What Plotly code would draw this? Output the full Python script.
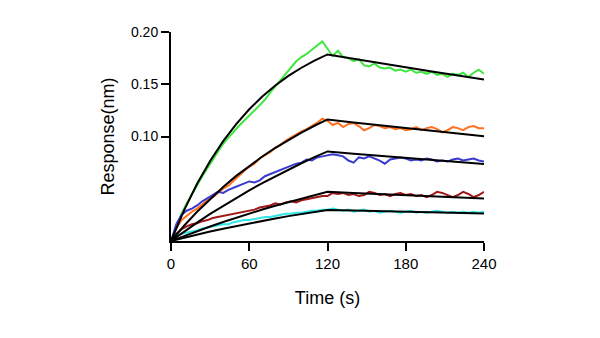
import plotly.graph_objects as go

# ---- data ----
t_data = list(range(0, 241, 4))

green = [0.0, 0.014, 0.026, 0.036, 0.045, 0.053, 0.062, 0.070, 0.078, 0.086,
         0.093, 0.099, 0.105, 0.110, 0.115, 0.120, 0.125, 0.130, 0.135, 0.142,
         0.148, 0.155, 0.161, 0.167, 0.172, 0.176, 0.179, 0.183, 0.187, 0.191,
         0.184, 0.177, 0.182, 0.176, 0.175, 0.172, 0.174, 0.168, 0.167, 0.170,
         0.166, 0.165, 0.166, 0.163, 0.164, 0.162, 0.164, 0.161, 0.162, 0.160,
         0.162, 0.159, 0.160, 0.157, 0.160, 0.159, 0.161, 0.157, 0.161, 0.164,
         0.160]

orange = [0.0, 0.012, 0.020, 0.024, 0.028, 0.031, 0.035, 0.039, 0.042, 0.046,
          0.050, 0.053, 0.058, 0.062, 0.067, 0.071, 0.074, 0.079, 0.082, 0.085,
          0.089, 0.092, 0.096, 0.099, 0.102, 0.105, 0.107, 0.110, 0.113, 0.117,
          0.115, 0.111, 0.113, 0.109, 0.112, 0.113, 0.110, 0.106, 0.108, 0.111,
          0.110, 0.108, 0.109, 0.107, 0.108, 0.106, 0.107, 0.109, 0.106, 0.108,
          0.109, 0.107, 0.104, 0.106, 0.109, 0.108, 0.106, 0.109, 0.110, 0.108,
          0.108]

blue = [0.0, 0.016, 0.025, 0.029, 0.031, 0.034, 0.038, 0.041, 0.044, 0.047,
        0.046, 0.049, 0.051, 0.053, 0.055, 0.057, 0.056, 0.058, 0.062, 0.064,
        0.066, 0.068, 0.070, 0.072, 0.074, 0.075, 0.078, 0.077, 0.080, 0.081,
        0.082, 0.083, 0.082, 0.081, 0.077, 0.075, 0.080, 0.079, 0.081, 0.079,
        0.077, 0.074, 0.078, 0.079, 0.080, 0.079, 0.077, 0.078, 0.077, 0.079,
        0.078, 0.076, 0.077, 0.076, 0.078, 0.079, 0.077, 0.078, 0.079, 0.077,
        0.076]

darkred = [0.0, 0.007, 0.011, 0.014, 0.016, 0.017, 0.019, 0.020, 0.022, 0.023,
           0.024, 0.025, 0.026, 0.027, 0.028, 0.029, 0.030, 0.032, 0.033, 0.034,
           0.036, 0.035, 0.037, 0.038, 0.037, 0.039, 0.040, 0.041, 0.042, 0.043,
           0.043, 0.046, 0.045, 0.046, 0.044, 0.045, 0.043, 0.044, 0.047, 0.046,
           0.044, 0.045, 0.043, 0.045, 0.046, 0.044, 0.045, 0.043, 0.044, 0.042,
           0.044, 0.047, 0.046, 0.044, 0.042, 0.044, 0.047, 0.045, 0.042, 0.044,
           0.047]

cyan = [0.0, 0.005, 0.007, 0.008, 0.009, 0.010, 0.012, 0.013, 0.014, 0.015,
        0.016, 0.016, 0.018, 0.019, 0.020, 0.020, 0.021, 0.022, 0.023, 0.023,
        0.024, 0.025, 0.026, 0.026, 0.027, 0.027, 0.028, 0.029, 0.029, 0.030,
        0.030, 0.031, 0.030, 0.029, 0.030, 0.028, 0.029, 0.030, 0.028, 0.029,
        0.027, 0.028, 0.029, 0.028, 0.027, 0.028, 0.029, 0.027, 0.028, 0.027,
        0.028, 0.029, 0.028, 0.027, 0.028, 0.027, 0.028, 0.027, 0.028, 0.027,
        0.028]

# fitted curves (black)
t_fit = [0, 10, 20, 30, 40, 50, 60, 70, 80, 90, 100, 110, 120, 140, 160, 180, 200, 220, 240]
fit_green = [0.0, 0.0293, 0.0547, 0.0766, 0.0955, 0.1119, 0.1261, 0.1383, 0.1488, 0.1580,
             0.1658, 0.1726, 0.1785, 0.1743, 0.1701, 0.1661, 0.1622, 0.1583, 0.1546]
fit_orange = [0.0, 0.0146, 0.0280, 0.0403, 0.0517, 0.0623, 0.0720, 0.0809, 0.0892, 0.0968,
              0.1038, 0.1103, 0.1163, 0.1135, 0.1107, 0.1080, 0.1054, 0.1028, 0.1003]
fit_blue = [0.0, 0.0090, 0.0176, 0.0259, 0.0337, 0.0413, 0.0485, 0.0554, 0.0620, 0.0683,
            0.0744, 0.0802, 0.0857, 0.0836, 0.0816, 0.0796, 0.0776, 0.0756, 0.0737]
fit_darkred = [0.0, 0.0048, 0.0095, 0.0139, 0.0182, 0.0223, 0.0263, 0.0301, 0.0338, 0.0373,
               0.0407, 0.0439, 0.0471, 0.0460, 0.0449, 0.0439, 0.0428, 0.0418, 0.0407]
fit_cyan = [0.0, 0.0032, 0.0062, 0.0091, 0.0118, 0.0144, 0.0170, 0.0193, 0.0216, 0.0238,
            0.0259, 0.0279, 0.0297, 0.0291, 0.0286, 0.0280, 0.0274, 0.0269, 0.0263]

x_ticks = [0, 60, 120, 180, 240]
y_ticks = [0.10, 0.15, 0.20]
y_tick_text = ["0.10", "0.15", "0.20"]

series = [
    (green, "#3ee63e"),
    (orange, "#ff7020"),
    (blue, "#3a3ad0"),
    (darkred, "#a01818"),
    (cyan, "#30e6e6"),
]
fits = [fit_green, fit_orange, fit_blue, fit_darkred, fit_cyan]

fig = go.Figure()
for vals, col in series:
    fig.add_trace(go.Scatter(x=t_data, y=vals, mode="lines",
                             line=dict(color=col, width=2), showlegend=False))
for vals in fits:
    fig.add_trace(go.Scatter(x=t_fit, y=vals, mode="lines",
                             line=dict(color="black", width=2), showlegend=False))

font_family = "Liberation Sans, Arial, sans-serif"
fig.update_layout(
    width=600, height=338,
    margin=dict(l=171, r=116, t=32, b=97),
    plot_bgcolor="white", paper_bgcolor="white",
    font=dict(family=font_family, color="black"),
    xaxis=dict(range=[0, 240], tickvals=x_ticks, ticktext=[str(v) for v in x_ticks],
               showline=True, linecolor="black", linewidth=2,
               ticks="outside", ticklen=8, tickwidth=2, tickcolor="black",
               showgrid=False, zeroline=False, tickfont=dict(size=15),
               title=dict(text="Time (s)", font=dict(size=18), standoff=20)),
    yaxis=dict(range=[0, 0.20], tickvals=y_ticks, ticktext=y_tick_text,
               showline=True, linecolor="black", linewidth=2,
               ticks="outside", ticklen=8, tickwidth=2, tickcolor="black",
               showgrid=False, zeroline=False, tickfont=dict(size=14),
               title=dict(text="Response(nm)", font=dict(size=18), standoff=12)),
)

fig.write_html("out.html")
